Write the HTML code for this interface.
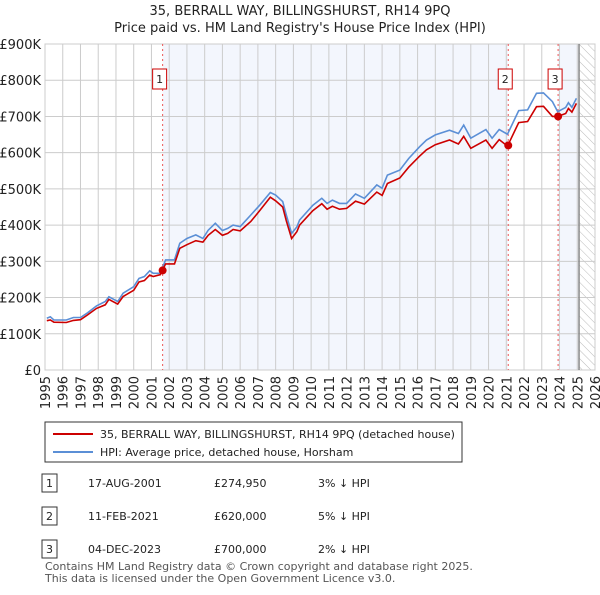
<!DOCTYPE html>
<html><head><meta charset="utf-8"><style>
body{margin:0;background:#fff;font-family:"Liberation Sans","DejaVu Sans",sans-serif;}
svg text{font-family:"DejaVu Sans","Liberation Sans",sans-serif;}
</style></head><body>
<svg id="c" width="600" height="590" viewBox="0 0 600 590" xmlns="http://www.w3.org/2000/svg">
<defs><pattern id="hatch" width="6" height="6" patternUnits="userSpaceOnUse" patternTransform="rotate(-45)"><line x1="0" y1="0" x2="0" y2="6" stroke="#bbb" stroke-width="1"/></pattern></defs>
<text x="300" y="15" text-anchor="middle" font-size="13" fill="#222">35, BERRALL WAY, BILLINGSHURST, RH14 9PQ</text>
<text x="300" y="32" text-anchor="middle" font-size="13" fill="#222">Price paid vs. HM Land Registry's House Price Index (HPI)</text>
<g id="plot"></g>
<g>
<rect x="45" y="422" width="417" height="40" fill="#fff" stroke="#333"/>
<line x1="53" y1="434" x2="93" y2="434" stroke="#cc0000" stroke-width="2"/>
<text x="100" y="438" font-size="11" fill="#222">35, BERRALL WAY, BILLINGSHURST, RH14 9PQ (detached house)</text>
<line x1="53" y1="452" x2="93" y2="452" stroke="#5b8fd6" stroke-width="2"/>
<text x="100" y="456" font-size="11" fill="#222">HPI: Average price, detached house, Horsham</text>
</g>
<g id="table" font-size="11" fill="#222"></g>
<text x="45" y="570" font-size="11" fill="#555">Contains HM Land Registry data © Crown copyright and database right 2025.</text>
<text x="45" y="582" font-size="11" fill="#555">This data is licensed under the Open Government Licence v3.0.</text>
</svg>
<script>
const dates=[1995.1,1995.3,1995.5,1996.2,1996.6,1997,1997.4,1997.9,1998.4,1998.6,1999.1,1999.4,2000,2000.3,2000.6,2000.9,2001.1,2001.5,2001.8,2002.3,2002.6,2003,2003.5,2003.9,2004.2,2004.6,2005,2005.3,2005.6,2006,2006.6,2007.1,2007.7,2008,2008.4,2008.6,2008.9,2009.2,2009.35,2010.1,2010.6,2010.9,2011.2,2011.6,2012,2012.5,2013,2013.7,2014,2014.3,2015,2015.5,2016.1,2016.5,2017,2017.8,2018.3,2018.6,2019,2019.85,2020.2,2020.6,2021.07,2021.7,2022.2,2022.7,2023.1,2023.6,2023.9,2024.35,2024.5,2024.7,2024.95];
const hpi=[143,147,138,138,145,145,158,177,189,202,189,212,230,253,258,274,267,267,304,304,350,363,373,363,386,405,385,391,400,396,428,455,490,483,465,428,377,395,414,455,474,460,469,460,460,486,474,511,502,538,552,584,616,635,649,662,653,676,640,664,640,664,651,716,718,764,765,741,713,725,738,725,750];
const priceSeries=[136,138,132,131,137,139,152,170,180,195,182,203,220,243,247,262,258,263,293,293,336,346,357,353,372,388,372,377,388,384,410,440,477,467,450,412,363,382,400,440,459,444,452,444,446,466,458,491,482,515,530,560,590,608,622,635,624,645,612,635,612,636,618,683,686,727,728,700,700,708,722,712,736];
const saleDates=[2001.63,2021.11,2023.92];
const salePrices=[274.95,620,700];
const saleLabels=["1","2","3"];
const saleDateText=["17-AUG-2001","11-FEB-2021","04-DEC-2023"];
const salePriceText=["£274,950","£620,000","£700,000"];
const saleHpiText=["3% ↓ HPI","5% ↓ HPI","2% ↓ HPI"];
const yTicks=[0,100,200,300,400,500,600,700,800,900];
const yTickLabels=["£0","£100K","£200K","£300K","£400K","£500K","£600K","£700K","£800K","£900K"];
const xTicks=[1995,1996,1997,1998,1999,2000,2001,2002,2003,2004,2005,2006,2007,2008,2009,2010,2011,2012,2013,2014,2015,2016,2017,2018,2019,2020,2021,2022,2023,2024,2025,2026];
const L=45,R=595,T=44,B=370,x0=1995,x1=2026,ymax=900,dataEnd=2025.1;
const X=v=>L+(v-x0)/(x1-x0)*(R-L);
const Y=v=>B-v/ymax*(B-T);
const NS="http://www.w3.org/2000/svg";
const plot=document.getElementById('plot');
function mk(tag,attrs,parent){const e=document.createElementNS(NS,tag);for(const k in attrs)e.setAttribute(k,attrs[k]);(parent||plot).appendChild(e);return e;}
let s1=mk('rect',{x:X(saleDates[0]),y:T,width:X(saleDates[1])-X(saleDates[0]),height:B-T,fill:'#f3f6fd'});


let s2=mk('rect',{x:X(saleDates[2]),y:T,width:X(dataEnd)-X(saleDates[2]),height:B-T,fill:'#f3f6fd'});


let hz=mk('rect',{x:X(dataEnd),y:T,width:R-X(dataEnd),height:B-T,fill:'url(#hatch)'});


yTicks.forEach((t,i)=>{
 let g=mk('line',{x1:L,x2:R,y1:Y(t),y2:Y(t),stroke:'#ccc','stroke-width':1});
 
 
 let tx=mk('text',{x:L-4,y:Y(t)+5,'text-anchor':'end','font-size':13,fill:'#222'});
 
 
 tx.textContent=yTickLabels[i];
});
xTicks.forEach(t=>{
 let g=mk('line',{x1:X(t),x2:X(t),y1:T,y2:B,stroke:'#ccc','stroke-width':1});
 
 
 let tx=mk('text',{x:0,y:0,'text-anchor':'end','font-size':13,fill:'#222',transform:`translate(${X(t)+5},${B+6}) rotate(-90)`});
 
 
 tx.textContent=t;
});
let ax=mk('rect',{x:L,y:T,width:R-L,height:B-T,fill:'none',stroke:'#ccc'});


let dl=mk('line',{x1:X(dataEnd),x2:X(dataEnd),y1:T,y2:B,stroke:'#888','stroke-width':1.5});


saleDates.forEach((d,i)=>{
 let v=mk('line',{x1:X(d),x2:X(d),y1:T,y2:B,stroke:'#e55','stroke-width':1,'stroke-dasharray':'2,3'});
 
 
 let bx=mk('rect',{x:X(d)-10,y:69,width:14,height:20,fill:'#fff',stroke:'#c00'});
 
 
 let bt=mk('text',{x:X(d)-3,y:83,'text-anchor':'middle','font-size':11,fill:'#222'});
 
 
 bt.textContent=saleLabels[i];
});
const pts=a=>a.map((v,i)=>X(dates[i]).toFixed(1)+','+Y(v).toFixed(1)).join(' ');
let hl=mk('polyline',{points:pts(hpi),fill:'none',stroke:'#5b8fd6','stroke-width':1.6});


let pl=mk('polyline',{points:pts(priceSeries),fill:'none',stroke:'#cc0000','stroke-width':1.6});


saleDates.forEach((d,i)=>{
 let c=mk('circle',{cx:X(d),cy:Y(salePrices[i]),r:4,fill:'#cc0000'});
 
 
});
const tb=document.getElementById('table');
saleLabels.forEach((l,i)=>{
 const y=483+i*33;
 let b=mk('rect',{x:42,y:y-9,width:15,height:18,fill:'#fff',stroke:'#333'},tb);
 
 
 const cells=[[49.5,l,'middle'],[88,saleDateText[i],'start'],[214,salePriceText[i],'start'],[318,saleHpiText[i],'start']];
 cells.forEach(c=>{
  let t=mk('text',{x:c[0],y:y+4,'text-anchor':c[2]},tb);
  
  
  t.textContent=c[1];
 });
});
</script>
</body></html>
